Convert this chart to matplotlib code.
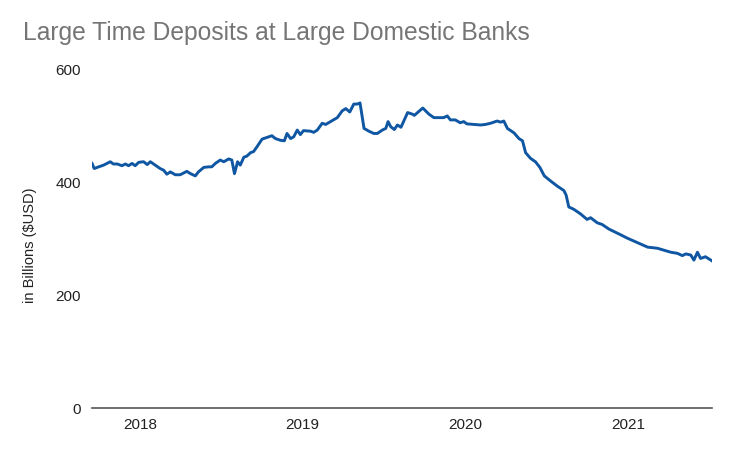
import pandas as pd
import matplotlib
matplotlib.use("Agg")
import matplotlib.pyplot as plt
import matplotlib.dates as mdates

plt.rcParams['font.family'] = ['Liberation Sans', 'DejaVu Sans']

# weekly readings, billions of USD
dates = [
    "2017-09-15", "2017-09-20", "2017-09-30", "2017-10-11", "2017-10-26", "2017-11-02",
    "2017-11-11", "2017-11-21", "2017-11-29", "2017-12-06", "2017-12-14", "2017-12-21",
    "2017-12-29", "2018-01-09", "2018-01-17", "2018-01-24", "2018-02-04", "2018-02-15",
    "2018-02-23", "2018-03-02", "2018-03-10", "2018-03-21", "2018-04-01", "2018-04-16",
    "2018-04-24", "2018-05-05", "2018-05-12", "2018-05-24", "2018-06-04", "2018-06-11",
    "2018-06-19", "2018-06-30", "2018-07-08", "2018-07-19", "2018-07-26", "2018-08-01",
    "2018-08-08", "2018-08-14", "2018-08-22", "2018-08-29", "2018-09-06", "2018-09-13",
    "2018-09-21", "2018-10-02", "2018-10-13", "2018-10-24", "2018-11-01", "2018-11-12",
    "2018-11-21", "2018-11-27", "2018-12-05", "2018-12-12", "2018-12-20", "2018-12-27",
    "2019-01-03", "2019-01-19", "2019-01-26", "2019-02-03", "2019-02-14", "2019-02-22",
    "2019-03-05", "2019-03-20", "2019-03-31", "2019-04-08", "2019-04-17", "2019-04-26",
    "2019-05-04", "2019-05-10", "2019-05-19", "2019-05-30", "2019-06-10", "2019-06-18",
    "2019-06-29", "2019-07-07", "2019-07-12", "2019-07-18", "2019-07-26", "2019-08-02",
    "2019-08-10", "2019-08-25", "2019-09-05", "2019-09-09", "2019-09-28", "2019-10-12",
    "2019-10-23", "2019-11-03", "2019-11-14", "2019-11-22", "2019-11-29", "2019-12-10",
    "2019-12-21", "2019-12-29", "2020-01-05", "2020-01-21", "2020-02-05", "2020-02-16",
    "2020-02-27", "2020-03-13", "2020-03-21", "2020-03-28", "2020-04-05", "2020-04-20",
    "2020-05-01", "2020-05-09", "2020-05-16", "2020-05-27", "2020-06-07", "2020-06-17",
    "2020-06-27", "2020-07-11", "2020-07-26", "2020-08-10", "2020-08-15", "2020-08-21",
    "2020-09-01", "2020-09-16", "2020-10-01", "2020-10-09", "2020-10-24", "2020-11-04",
    "2020-11-19", "2020-12-15", "2020-12-30", "2021-01-22", "2021-02-14", "2021-03-08",
    "2021-04-07", "2021-04-22", "2021-05-03", "2021-05-11", "2021-05-22", "2021-05-29",
    "2021-06-06", "2021-06-13", "2021-06-24", "2021-07-08",
]
deposits = [
    433, 424, 427, 430, 436, 432,
    432, 429, 432, 429, 433, 429,
    435, 436, 431, 436, 430, 424,
    421, 414, 418, 413, 413, 419,
    415, 411, 418, 426, 427, 427,
    433, 439, 436, 441, 439, 415,
    436, 430, 444, 446, 452, 454,
    463, 476, 479, 482, 477, 474,
    473, 486, 477, 480, 492, 484,
    491, 490, 488, 492, 504, 502,
    507, 514, 526, 530, 524, 538,
    538, 540, 495, 490, 486, 486,
    492, 495, 507, 498, 493, 501,
    497, 523, 520, 518, 531, 520,
    514, 514, 514, 517, 510, 510,
    505, 507, 503, 502, 501, 502,
    504, 508, 506, 508, 495, 487,
    477, 473, 452, 442, 436, 426,
    411, 402, 393, 385, 377, 356,
    352, 344, 334, 337, 328, 325,
    317, 307, 301, 293, 285, 283,
    276, 274, 270, 273, 271, 262,
    276, 265, 268, 261,
]

title = "Large Time Deposits at Large Domestic Banks"
y_label = "in Billions ($USD)"
y_ticks = [0, 200, 400, 600]

df = pd.DataFrame({"date": pd.to_datetime(dates), "value": deposits})

fig = plt.figure(figsize=(7.35, 4.54), dpi=100)
ax = fig.add_axes([0.1252, 0.1007, 0.8431, 0.7473])

ax.plot(df["date"], df["value"], color="#0f56a3", lw=2.1, solid_joinstyle="round")

ax.set_ylim(0, 600)
ax.set_yticks(y_ticks)
ax.set_xlim(df["date"].iloc[0], df["date"].iloc[-1])
ax.xaxis.set_major_locator(mdates.YearLocator())
ax.xaxis.set_major_formatter(mdates.DateFormatter("%Y"))

for s in ["top", "right", "left"]:
    ax.spines[s].set_visible(False)
ax.spines["bottom"].set_color("#555555")
ax.spines["bottom"].set_linewidth(1.2)
ax.tick_params(length=0, labelsize=11, colors="#222222")
ax.tick_params(axis="y", pad=8)
ax.tick_params(axis="x", pad=7)

ax.set_ylabel(y_label, fontsize=10.5, color="#222222")
ax.yaxis.set_label_coords(-0.088, 0.48)

fig.text(0.031, 0.912, title, fontsize=17.7, color="#757575", va="baseline")

plt.savefig("out.png", dpi=100)
